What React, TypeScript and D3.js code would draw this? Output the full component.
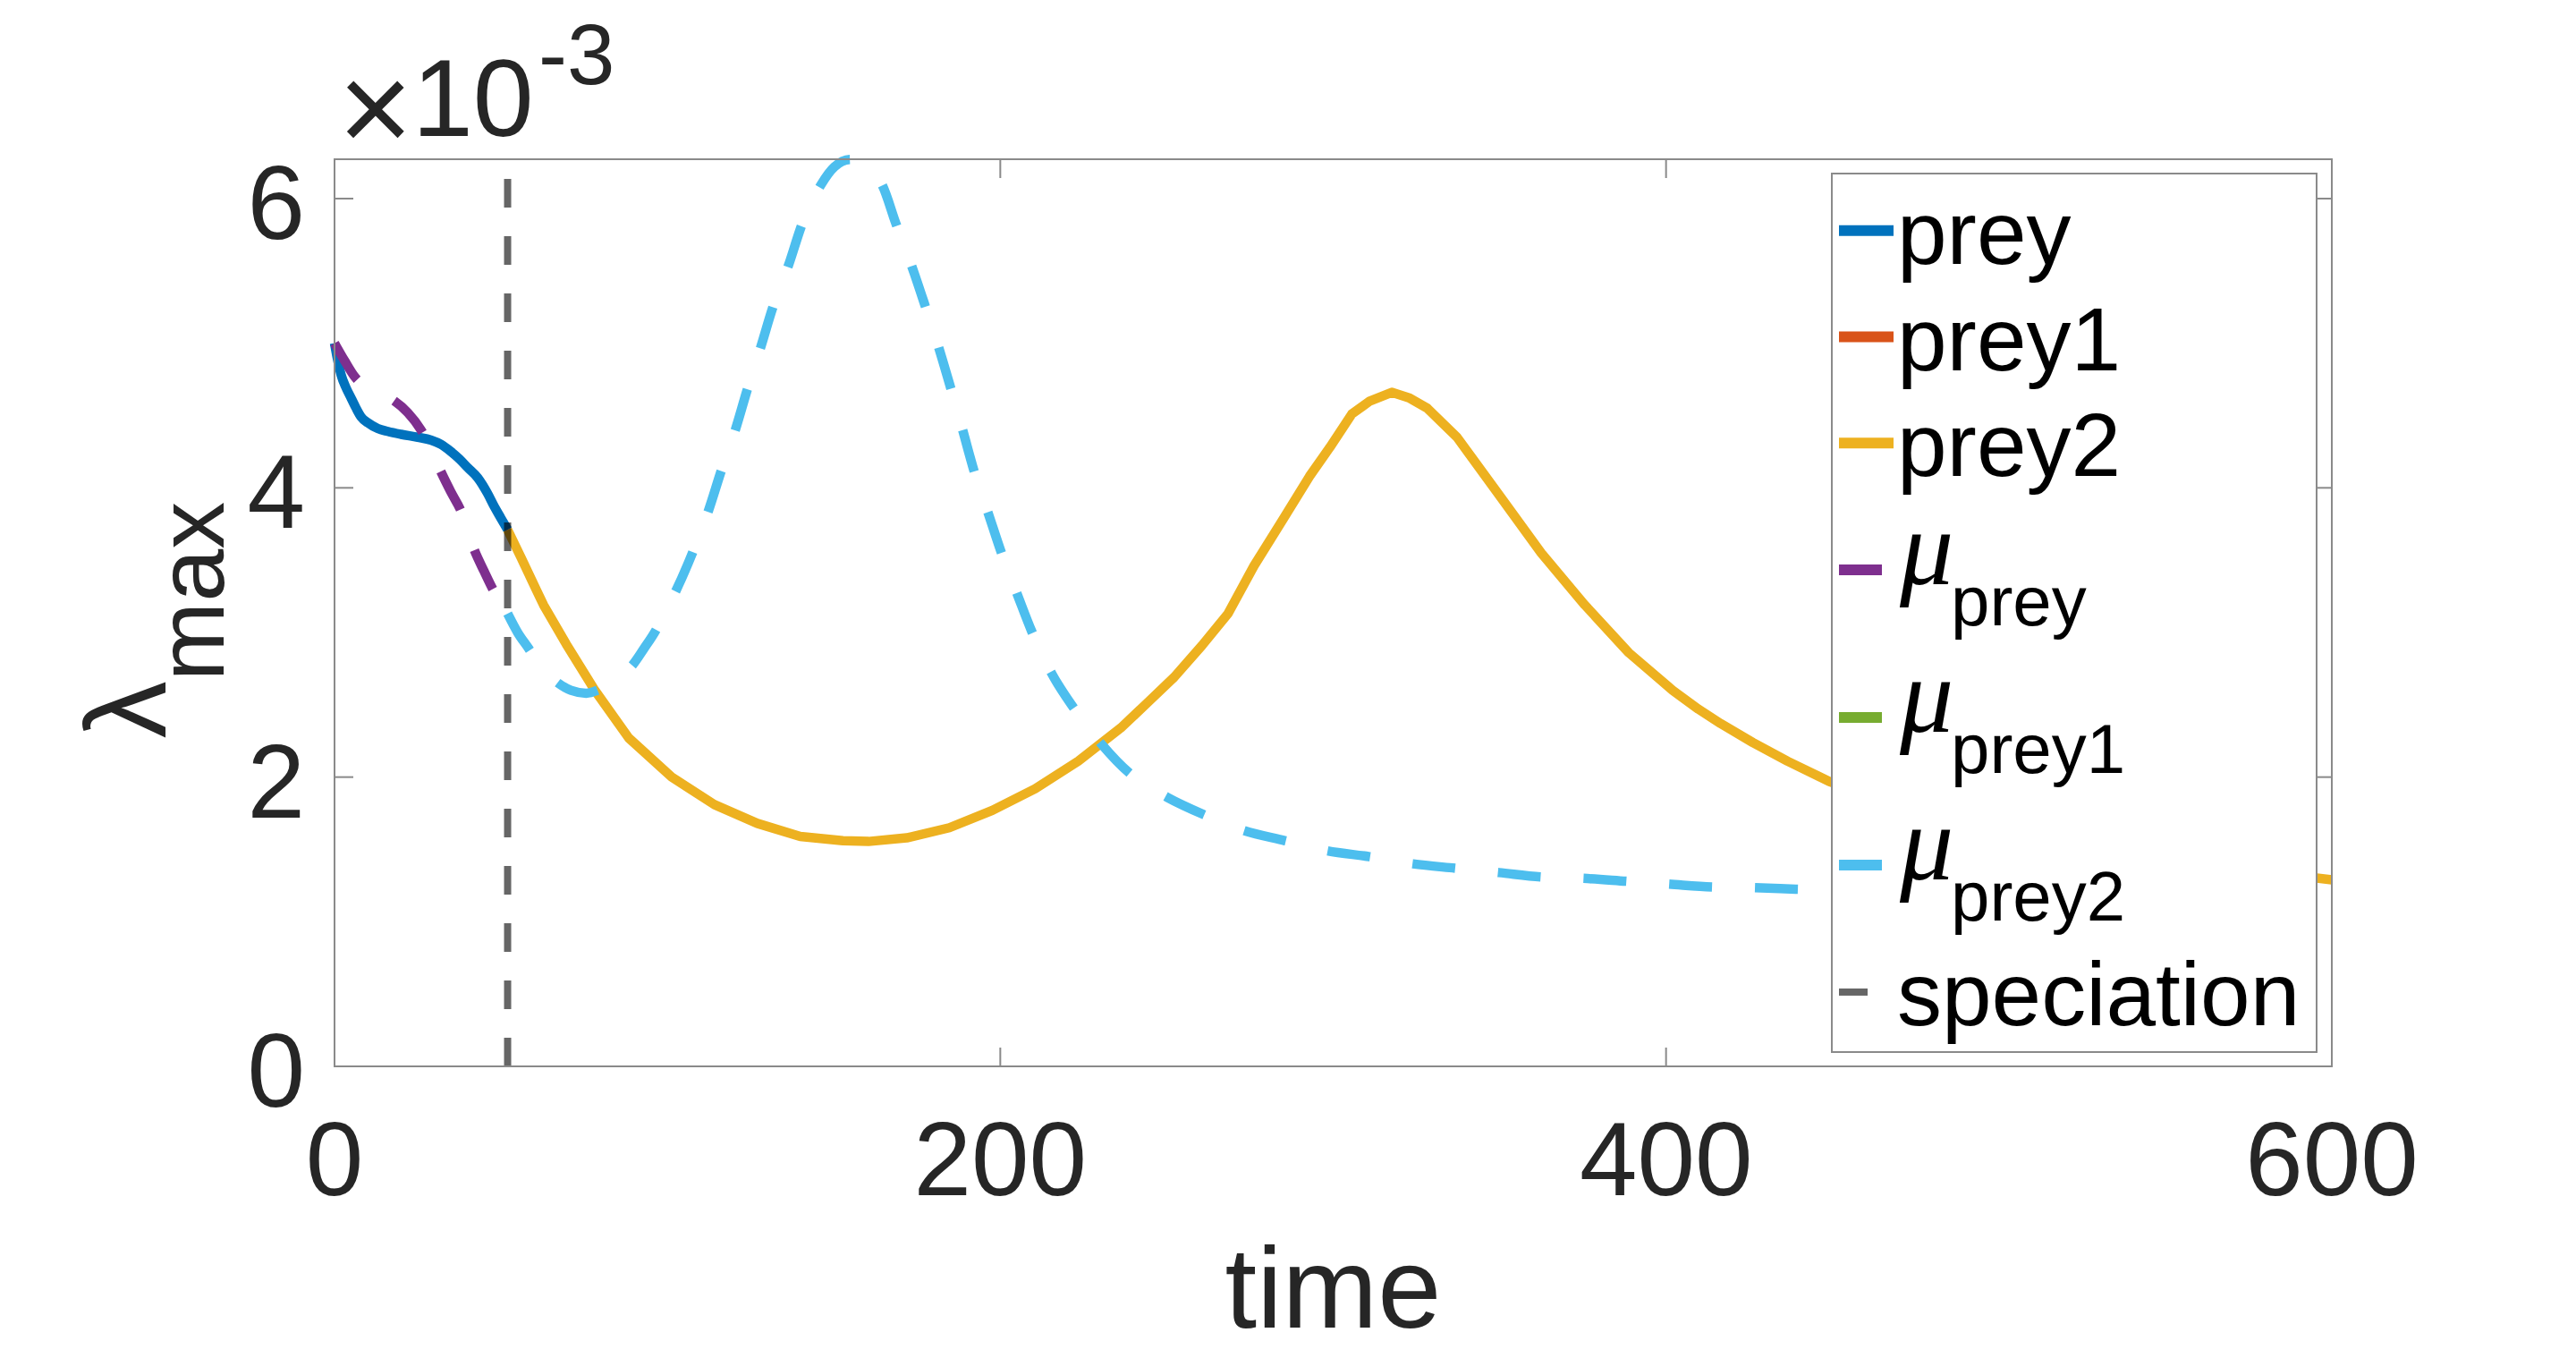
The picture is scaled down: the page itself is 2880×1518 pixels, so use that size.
import React from 'react';
import * as d3 from 'd3';

// values in units of 1e-3
const timeTicks = [0, 200, 400, 600];
const lambdaTicks = [0, 2, 4, 6];
const speciationTime = 52;

const prey: [number, number][] = [
  [0, 5.0], [0.8, 4.9], [2, 4.78], [3.5, 4.69], [5, 4.62], [6.5, 4.55], [8, 4.49],
  [10, 4.45], [13, 4.41], [16, 4.39], [20, 4.37], [25, 4.35], [29, 4.33], [32, 4.3],
  [35, 4.25], [37.5, 4.2], [40, 4.14], [43, 4.07], [46, 3.96], [48, 3.87], [50, 3.79], [52, 3.71],
];

const prey1: [number, number][] = [];

const prey2: [number, number][] = [
  [52, 3.71], [56, 3.52], [60.7, 3.29], [62.8, 3.19], [69.6, 2.92], [78.2, 2.6], [88.4, 2.27],
  [101.3, 2.0], [114.1, 1.81], [127, 1.68], [139.9, 1.59], [152.7, 1.56], [160.4, 1.555],
  [171.9, 1.58], [184.7, 1.65], [197.6, 1.77], [210.5, 1.92], [223.4, 2.11], [236.2, 2.34],
  [244, 2.51], [252.2, 2.69], [260.6, 2.91], [268.4, 3.13], [276.2, 3.46], [284.6, 3.77],
  [292.9, 4.08], [299, 4.28], [305.6, 4.51], [311, 4.6], [317.6, 4.66], [323, 4.62],
  [328.3, 4.55], [337.2, 4.35], [350.5, 3.93], [362.5, 3.55], [375.6, 3.19], [388.8, 2.86],
  [402, 2.6], [409.7, 2.47], [416.4, 2.37], [426, 2.24], [436.5, 2.11], [449, 1.97],
  [470, 1.8], [500, 1.63], [530, 1.5], [560, 1.4], [600, 1.29],
];

const muPrey: [number, number][] = [
  [0, 5.0], [3, 4.88], [6, 4.77], [10, 4.69], [14, 4.65], [18, 4.6], [22, 4.52], [26, 4.4],
  [29, 4.27], [32, 4.11], [35, 3.97], [38, 3.84], [42, 3.57], [45, 3.42], [48, 3.28], [52, 3.14],
];

const muPrey1: [number, number][] = [];

const muPrey2: [number, number][] = [
  [52, 3.13], [55, 3.0], [58.3, 2.89], [62, 2.76], [66.6, 2.66], [71, 2.6], [75.6, 2.58],
  [79, 2.6], [83, 2.65], [86, 2.7], [89.7, 2.78], [93, 2.89], [96.4, 3.01], [99.5, 3.15],
  [102.6, 3.29], [107.7, 3.56], [112.3, 3.84], [116.2, 4.12], [120.4, 4.4], [124, 4.68],
  [128, 4.97], [131.7, 5.25], [136.4, 5.54], [140.4, 5.82], [146, 6.09], [150.2, 6.22],
  [155, 6.27], [160, 6.21], [164.6, 6.09], [168.6, 5.83], [173.3, 5.54], [177.4, 5.26],
  [181.5, 4.97], [185.1, 4.69], [188.7, 4.4], [192.2, 4.11], [196.3, 3.83], [200.5, 3.54],
  [205, 3.27], [209.4, 3.01], [215.6, 2.71], [222, 2.48], [230.3, 2.23], [238.7, 2.03],
  [245, 1.93], [250.2, 1.86], [261.2, 1.74], [273.2, 1.63], [285.6, 1.56], [298.3, 1.49],
  [310.9, 1.45], [324, 1.4], [336.6, 1.37], [349.8, 1.34], [362.4, 1.31], [375, 1.3],
  [388, 1.28], [400.8, 1.26], [414, 1.24], [426.6, 1.235], [439, 1.225], [460, 1.21],
  [490, 1.19], [520, 1.18], [560, 1.17],
];

const legendLabels = ['prey', 'prey1', 'prey2', 'prey', 'prey1', 'prey2', 'speciation'];
const legendIsMu = [false, false, false, true, true, true, false];

const FONT = "'Liberation Sans', Arial, Helvetica, sans-serif";
const TICK_COLOR = '#262626';
const AXIS_COLOR = '#8a8a8a';

const W = 2880;
const H = 1518;
const plot = { left: 374, right: 2607, top: 178, bottom: 1192 };

const series = [
  { data: prey, color: '#0072BD', dash: undefined as string | undefined, smooth: true },
  { data: prey1, color: '#D95319', dash: undefined, smooth: false },
  { data: prey2, color: '#EDB120', dash: undefined, smooth: false },
  { data: muPrey, color: '#7E2F8E', dash: '48 48', smooth: true },
  { data: muPrey1, color: '#77AC30', dash: '48 48', smooth: true },
  { data: muPrey2, color: '#4DBEEE', dash: '48 48', smooth: true },
];

const App: React.FC = () => {
  const x = d3.scaleLinear().domain([0, 600]).range([plot.left, plot.right]);
  const y = d3.scaleLinear().domain([0, 6.272]).range([plot.bottom, plot.top]);

  const linearLine = d3.line<[number, number]>()
    .x(d => x(d[0]))
    .y(d => y(d[1]))
    .curve(d3.curveLinear);
  const smoothLine = d3.line<[number, number]>()
    .x(d => x(d[0]))
    .y(d => y(d[1]))
    .curve(d3.curveMonotoneX);

  const tickLen = 21;

  // legend layout
  const lg = { left: 2048, right: 2590, top: 194, bottom: 1176 };
  const rowH = legendIsMu.map(m => (m ? 165 : 118.7));
  let acc = lg.top + 4.5;
  const rowCenters = rowH.map(h => {
    const c = acc + h / 2;
    acc += h;
    return c;
  });
  const legendStyles = [
    ...series.map(s => ({ color: s.color, dash: s.dash, width: 12, opacity: 1 })),
    { color: '#000', dash: '32 32', width: 8, opacity: 0.6 },
  ];

  return (
    <svg
      width={W}
      height={H}
      style={{ position: 'absolute', left: 0, top: 0, background: '#fff' }}
      fontFamily={FONT}
    >
      <rect x={0} y={0} width={W} height={H} fill="#fff" />

      {/* data lines */}
      {series.map((s, i) =>
        s.data.length ? (
          <path
            key={i}
            d={(s.smooth ? smoothLine : linearLine)(s.data) || ''}
            fill="none"
            stroke={s.color}
            strokeWidth={10.5}
            strokeDasharray={s.dash}
            strokeLinejoin="round"
          />
        ) : null
      )}

      {/* speciation line */}
      <line
        x1={x(speciationTime)}
        x2={x(speciationTime)}
        y1={y(0)}
        y2={plot.top}
        stroke="#000"
        strokeOpacity={0.6}
        strokeWidth={8}
        strokeDasharray="32 32"
      />

      {/* axes box */}
      <rect
        x={plot.left}
        y={plot.top}
        width={plot.right - plot.left}
        height={plot.bottom - plot.top}
        fill="none"
        stroke={AXIS_COLOR}
        strokeWidth={2}
      />
      {timeTicks.map(t => (
        <g key={'xt' + t}>
          <line x1={x(t)} x2={x(t)} y1={plot.bottom} y2={plot.bottom - tickLen} stroke={AXIS_COLOR} strokeWidth={2} />
          <line x1={x(t)} x2={x(t)} y1={plot.top} y2={plot.top + tickLen} stroke={AXIS_COLOR} strokeWidth={2} />
          <text x={x(t)} y={1336} textAnchor="middle" fontSize={116} fill={TICK_COLOR}>{t}</text>
        </g>
      ))}
      {lambdaTicks.map(v => (
        <g key={'yt' + v}>
          <line x1={plot.left} x2={plot.left + tickLen} y1={y(v)} y2={y(v)} stroke={AXIS_COLOR} strokeWidth={2} />
          <line x1={plot.right} x2={plot.right - tickLen} y1={y(v)} y2={y(v)} stroke={AXIS_COLOR} strokeWidth={2} />
          <text x={341} y={y(v) + 45} textAnchor="end" fontSize={116} fill={TICK_COLOR}>{v}</text>
        </g>
      ))}

      {/* exponent */}
      <text x={378} y={170} fontSize={143} fill={TICK_COLOR}>×</text>
      <text x={461} y={152} fontSize={122} fill={TICK_COLOR}>10</text>
      <text x={602} y={94} fontSize={96} fill={TICK_COLOR}>-3</text>

      {/* axis labels */}
      <text x={(plot.left + plot.right) / 2} y={1484} textAnchor="middle" fontSize={128} fill={TICK_COLOR}>time</text>
      <text transform={`translate(185,${(plot.top + plot.bottom) / 2 + 8}) rotate(-90)`} textAnchor="middle" fontSize={128} fill={TICK_COLOR}>
        <tspan>λ</tspan>
        <tspan dy={65} fontSize={106}>max</tspan>
      </text>

      {/* legend */}
      <rect x={lg.left} y={lg.top} width={lg.right - lg.left} height={lg.bottom - lg.top} fill="#fff" stroke={AXIS_COLOR} strokeWidth={2} />
      {legendLabels.map((lab, i) => {
        const c = rowCenters[i];
        const st = legendStyles[i];
        return (
          <g key={'lg' + i}>
            <line
              x1={2056}
              x2={2117}
              y1={c}
              y2={c}
              stroke={st.color}
              strokeOpacity={st.opacity}
              strokeWidth={st.width}
              strokeDasharray={st.dash}
            />
            {legendIsMu[i] ? (
              <>
                <text x={2124} y={c + 16} fontSize={120} fontStyle="italic" fontFamily="'Liberation Serif', 'DejaVu Serif', serif" fill="#000">μ</text>
                <text x={2181} y={c + 62} fontSize={78} fill="#000">{lab}</text>
              </>
            ) : (
              <text x={2121} y={c + 37} fontSize={100} fill="#000">{lab}</text>
            )}
          </g>
        );
      })}
    </svg>
  );
};

export default App;
